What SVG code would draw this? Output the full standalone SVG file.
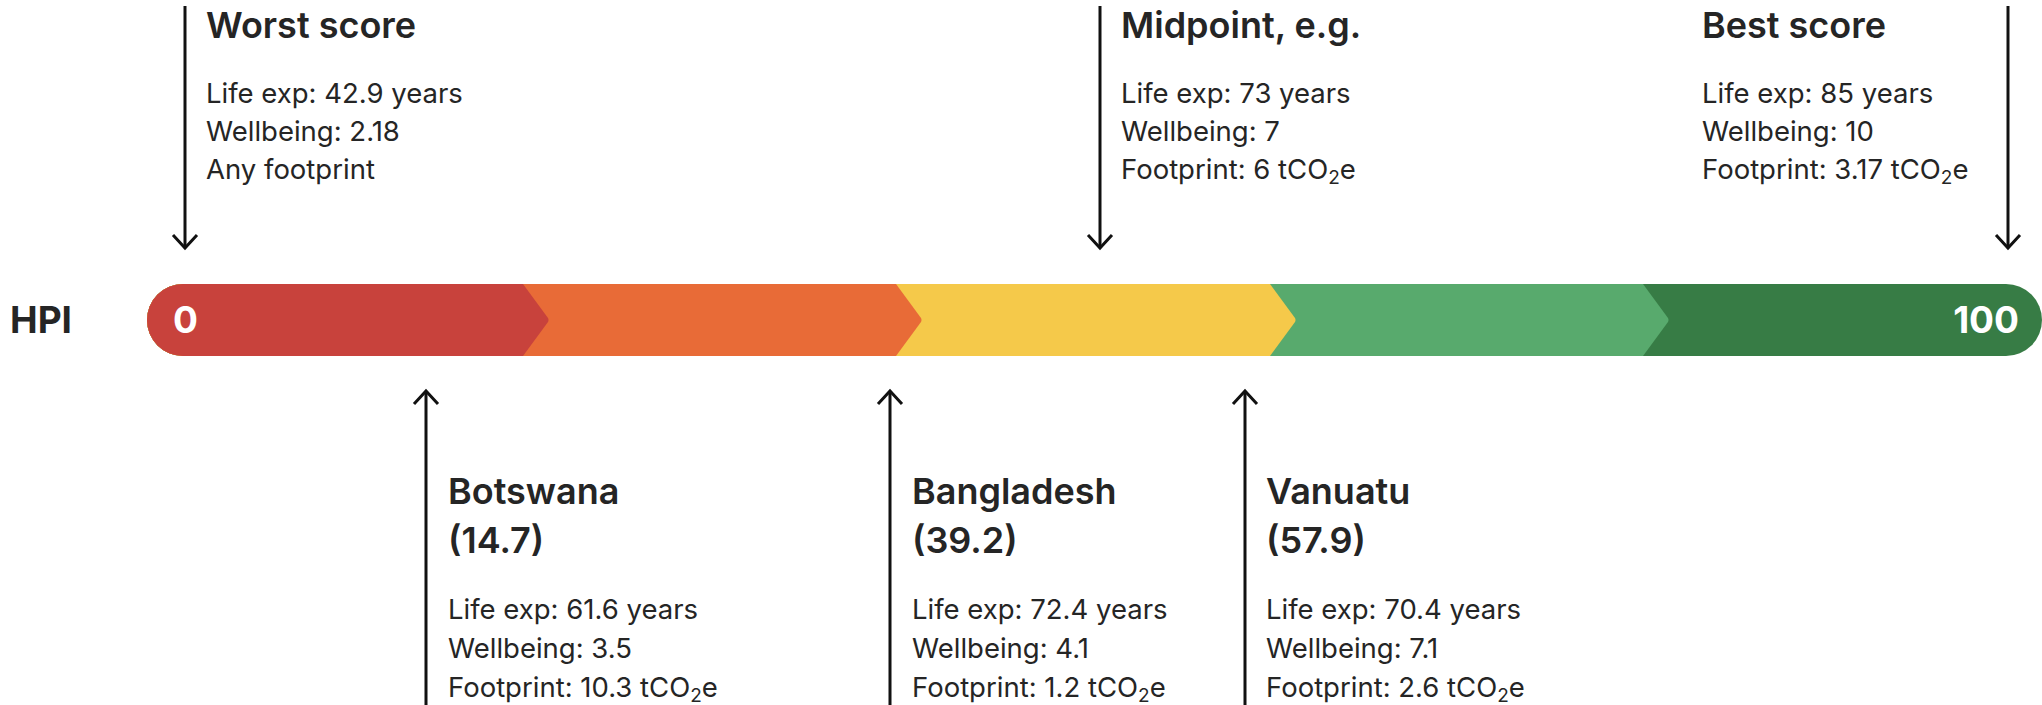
<svg xmlns="http://www.w3.org/2000/svg" width="2042" height="705" viewBox="0 0 2042 705">
<style>
.t{font-family:Inter,"Noto Sans","Liberation Sans",sans-serif;font-weight:600;font-size:36px;fill:#252525}
.b{font-family:Inter,"Noto Sans","Liberation Sans",sans-serif;font-weight:400;font-size:27.5px;fill:#252525}
.s{font-size:19px}
.lbl{font-family:Inter,"Noto Sans","Liberation Sans",sans-serif;font-weight:700;font-size:37px}
.arr{stroke:#111;stroke-width:3;fill:none;marker-end:url(#ah)}
</style>
<defs>
<marker id="ah" markerUnits="userSpaceOnUse" markerWidth="30" markerHeight="30" refX="0" refY="0" orient="auto" overflow="visible">
<path d="M-13,-12 L0,0 L-13,12" fill="none" stroke="#111" stroke-width="3" stroke-linejoin="miter"/>
</marker>
<clipPath id="barclip"><rect x="147" y="284" width="1895" height="72" rx="36" ry="36"/></clipPath>
</defs>
<rect width="2042" height="705" fill="#fff"/>
<g id="bar" clip-path="url(#barclip)">
<rect x="147" y="284" width="1895" height="72" fill="#377C45"/>
<path d="M140,284 H1643 L1668,318 Q1669,320 1668,322 L1643,356 H140 Z" fill="#58AA6D"/>
<path d="M140,284 H1270 L1295,318 Q1296,320 1295,322 L1270,356 H140 Z" fill="#F5C94A"/>
<path d="M140,284 H896 L921,318 Q922,320 921,322 L896,356 H140 Z" fill="#E86B37"/>
<path d="M140,284 H523 L548,318 Q549,320 548,322 L523,356 H140 Z" fill="#C8423C"/>
</g>
<g id="hpi-label"><text class="lbl" x="10" y="333" fill="#252525">HPI</text></g>
<g id="scale-labels">
<text class="lbl" x="173" y="333" fill="#fff">0</text>
<text class="lbl" x="2019" y="333" fill="#fff" text-anchor="end">100</text>
</g>
<g id="connectors">
<line class="arr" x1="185" y1="6" x2="185" y2="248"/>
<line class="arr" x1="1100" y1="6" x2="1100" y2="248"/>
<line class="arr" x1="2008" y1="6" x2="2008" y2="248"/>
<line class="arr" x1="426" y1="705" x2="426" y2="391"/>
<line class="arr" x1="890" y1="705" x2="890" y2="391"/>
<line class="arr" x1="1245" y1="705" x2="1245" y2="391"/>
</g>
<g id="worst">
<text class="t" x="206" y="38">Worst score</text>
<text class="b" x="206" y="103">Life exp: 42.9 years</text>
<text class="b" x="206" y="141">Wellbeing: 2.18</text>
<text class="b" x="206" y="179">Any footprint</text>
</g>
<g id="midpoint">
<text class="t" x="1121" y="38">Midpoint, e.g.</text>
<text class="b" x="1121" y="103">Life exp: 73 years</text>
<text class="b" x="1121" y="141">Wellbeing: 7</text>
<text class="b" x="1121" y="179">Footprint: 6 tCO<tspan class="s" dy="5">2</tspan><tspan dy="-5">e</tspan></text>
</g>
<g id="best">
<text class="t" x="1702" y="38">Best score</text>
<text class="b" x="1702" y="103">Life exp: 85 years</text>
<text class="b" x="1702" y="141">Wellbeing: 10</text>
<text class="b" x="1702" y="179">Footprint: 3.17 tCO<tspan class="s" dy="5">2</tspan><tspan dy="-5">e</tspan></text>
</g>
<g id="botswana">
<text class="t" x="448" y="504">Botswana</text>
<text class="t" x="448" y="553">(14.7)</text>
<text class="b" x="448" y="619">Life exp: 61.6 years</text>
<text class="b" x="448" y="658">Wellbeing: 3.5</text>
<text class="b" x="448" y="697">Footprint: 10.3 tCO<tspan class="s" dy="5">2</tspan><tspan dy="-5">e</tspan></text>
</g>
<g id="bangladesh">
<text class="t" x="912" y="504">Bangladesh</text>
<text class="t" x="912" y="553">(39.2)</text>
<text class="b" x="912" y="619">Life exp: 72.4 years</text>
<text class="b" x="912" y="658">Wellbeing: 4.1</text>
<text class="b" x="912" y="697">Footprint: 1.2 tCO<tspan class="s" dy="5">2</tspan><tspan dy="-5">e</tspan></text>
</g>
<g id="vanuatu">
<text class="t" x="1266" y="504">Vanuatu</text>
<text class="t" x="1266" y="553">(57.9)</text>
<text class="b" x="1266" y="619">Life exp: 70.4 years</text>
<text class="b" x="1266" y="658">Wellbeing: 7.1</text>
<text class="b" x="1266" y="697">Footprint: 2.6 tCO<tspan class="s" dy="5">2</tspan><tspan dy="-5">e</tspan></text>
</g>
</svg>
